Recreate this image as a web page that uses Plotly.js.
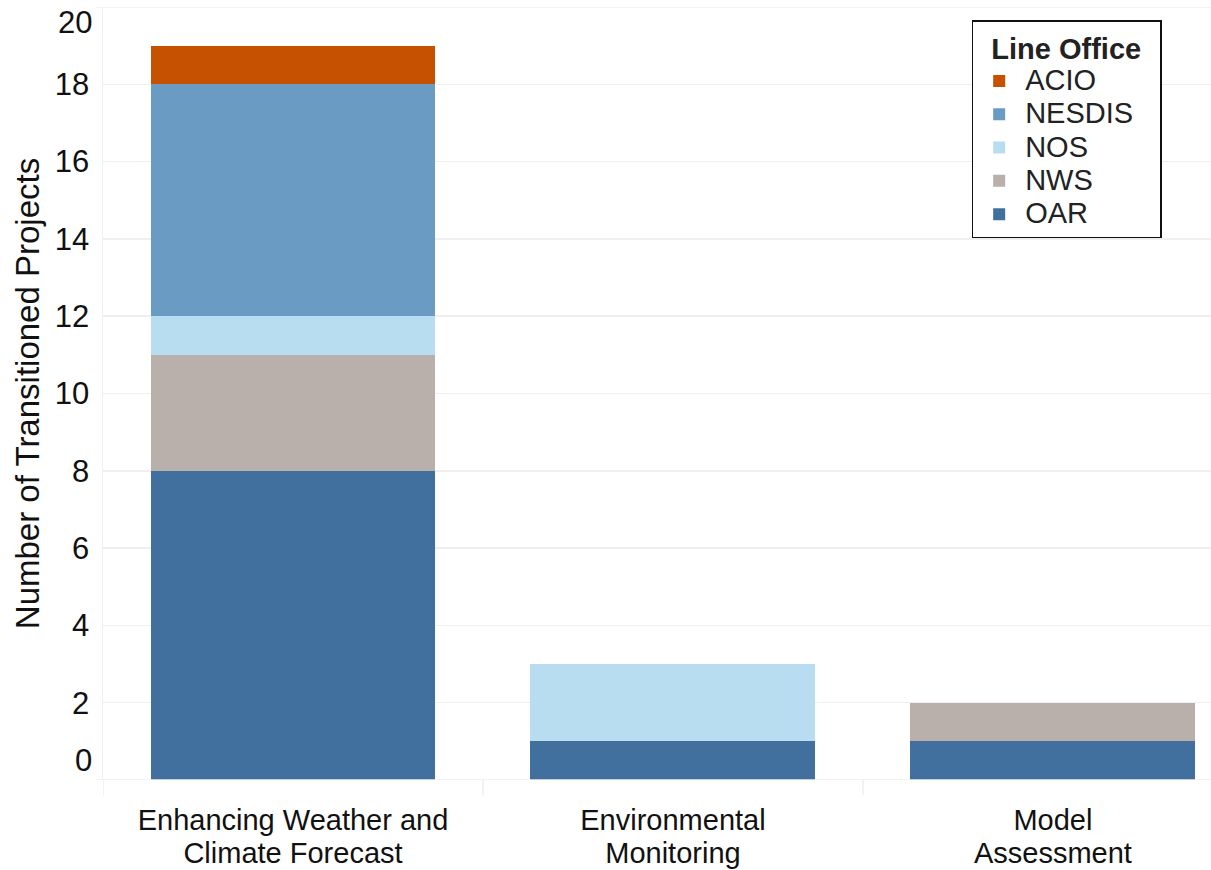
<!DOCTYPE html>
<html>
<head>
<meta charset="utf-8">
<script src="https://cdn.plot.ly/plotly-3.0.1.min.js"></script>
<style>html,body{margin:0;padding:0;background:#fff;}#chart{width:1211px;height:870px;}</style>
</head>
<body>
<div id="chart"></div>
<script>
const categories = ["Enhancing Weather and<br>Climate Forecast", "Environmental<br>Monitoring", "Model<br>Assessment"];
const OAR = [8, 1, 1];
const NWS = [3, 0, 1];
const NOS = [1, 2, 0];
const NESDIS = [6, 0, 0];
const ACIO = [1, 0, 0];
const yTicks = [0, 2, 4, 6, 8, 10, 12, 14, 16, 18, 20];

const seriesDefs = [
  {name: "OAR", y: OAR, color: "#41709F"},
  {name: "NWS", y: NWS, color: "#B9B0AB"},
  {name: "NOS", y: NOS, color: "#B9DDF0"},
  {name: "NESDIS", y: NESDIS, color: "#6A9BC3"},
  {name: "ACIO", y: ACIO, color: "#C65100"}
];
const big = (t, px) => '<span style="font-size:' + px + 'px">' + t + '</span>';
const xIdx = categories.map((c, i) => i);
const traces = seriesDefs.map(s => ({
  type: "bar", name: big(s.name, 29),
  x: xIdx, y: s.y, width: 0.75,
  marker: {color: s.color, line: {width: 0}},
  hoverinfo: "y"
}));

const innerTicks = yTicks.filter(v => v !== 0 && v !== 20);
const font = "Liberation Sans, Arial, sans-serif";
const grid = "#efefef";

const layout = {
  width: 1211, height: 870,
  margin: {l: 103, r: 0, t: 7, b: 90},
  paper_bgcolor: "#fff", plot_bgcolor: "#fff",
  barmode: "stack",
  font: {family: font, color: "#111"},
  xaxis: {
    range: [-0.5, 2.416],
    tickvals: xIdx,
    ticktext: categories.map(c => c.split("<br>").map(l => big(l, 29)).join("<br>")),
    ticks: "", showgrid: false, zeroline: false, showline: false,
    tickfont: {size: 25.4, color: "#111"},
    ticklabelstandoff: 24,
    fixedrange: true
  },
  yaxis: {
    range: [0, 20],
    tickvals: innerTicks, ticktext: innerTicks.map(String),
    ticks: "", ticklen: 0,
    tickfont: {size: 31, color: "#111"},
    ticklabelstandoff: 6,
    showgrid: true, gridcolor: grid, gridwidth: 1.5,
    zeroline: false, showline: true, linecolor: grid, linewidth: 1.5,
    title: {text: "Number of Transitioned Projects", font: {size: 33, color: "#111"}, standoff: 5},
    fixedrange: true
  },
  legend: {
    title: {text: "&nbsp;&nbsp;<b>Line Office</b>&nbsp;&nbsp;", font: {size: 29, color: "#222"}},
    traceorder: "reversed",
    x: 0.784, y: 0.983, xanchor: "left", yanchor: "top",
    bgcolor: "#fff", bordercolor: "#111", borderwidth: 1.5,
    font: {size: 23.3, color: "#222"},
    itemwidth: 42,
    itemsizing: "constant", tracegroupgap: 0
  },
  shapes: [
    {type: "line", xref: "paper", yref: "y", x0: -0.007, x1: 1, y0: 0, y1: 0, line: {color: grid, width: 1.5}},
    {type: "line", xref: "paper", yref: "y", x0: -0.007, x1: 1, y0: 20, y1: 20, line: {color: grid, width: 1.5}},
    {type: "line", xref: "x", yref: "paper", x0: -0.5, x1: -0.5, y0: 0, y1: -0.02, line: {color: grid, width: 1.5}},
    {type: "line", xref: "x", yref: "paper", x0: 0.5, x1: 0.5, y0: 0, y1: -0.02, line: {color: grid, width: 1.5}},
    {type: "line", xref: "x", yref: "paper", x0: 1.5, x1: 1.5, y0: 0, y1: -0.02, line: {color: grid, width: 1.5}}
  ],
  annotations: [
    {xref: "paper", yref: "y", x: 0, y: yTicks[0], text: String(yTicks[0]), showarrow: false, xanchor: "right", yanchor: "middle", xshift: -9, yshift: 20, font: {size: 31, color: "#111"}},
    {xref: "paper", yref: "y", x: 0, y: yTicks[yTicks.length - 1], text: String(yTicks[yTicks.length - 1]), showarrow: false, xanchor: "right", yanchor: "middle", xshift: -9, yshift: -15, font: {size: 31, color: "#111"}}
  ],
  bargap: 0.25,
  showlegend: true
};

Plotly.newPlot("chart", traces, layout, {displayModeBar: false, staticPlot: true});
</script>
</body>
</html>
